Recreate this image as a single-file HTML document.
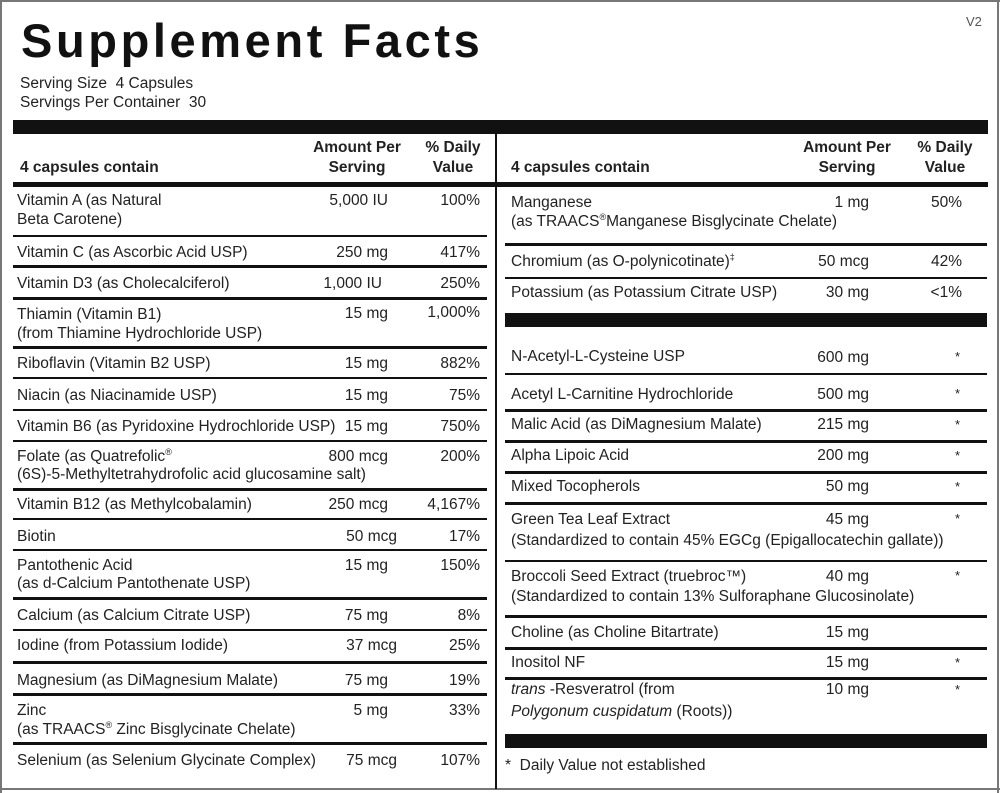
<!DOCTYPE html>
<html><head><meta charset="utf-8"><style>
body{margin:0;width:1000px;height:793px;background:#fff;position:relative;overflow:hidden;font-family:"Liberation Sans",Arial,sans-serif;color:#222}
.t{position:absolute;white-space:nowrap;font-size:15.5px;line-height:18px}
.r{text-align:right}
.b{font-weight:bold}
.c{text-align:center;width:120px}
.l{position:absolute;background:#111}
.s{font-size:9px;position:relative;top:-6px;line-height:0}
.a{position:absolute;font-size:13px;line-height:13px}
</style></head><body>
<div class="l" style="left:0;top:0;width:2px;height:793px;background:#777"></div>
<div class="l" style="left:997px;top:0;width:2px;height:793px;background:#777"></div>
<div class="l" style="left:0;top:0;width:1000px;height:2px;background:#777"></div>
<div class="l" style="left:0;top:788px;width:1000px;height:2px;background:#777"></div>
<div class="t" style="left:966px;top:13px;font-size:13px;color:#555">V2</div>
<div class="t b" style="left:21px;top:13px;font-size:47px;line-height:55px;letter-spacing:3.6px;color:#111">Supplement Facts</div>
<div class="t" style="left:20px;top:75px">Serving Size&nbsp; 4 Capsules</div>
<div class="t" style="left:20px;top:94px">Servings Per Container&nbsp; 30</div>
<div class="l" style="left:13px;top:120px;width:975px;height:14px"></div>
<div class="l" style="left:495px;top:134px;width:2px;height:655px"></div>
<div class="l" style="left:13px;top:182px;width:975px;height:5px"></div>
<div class="t b" style="left:20px;top:159px">4 capsules contain</div>
<div class="t b c" style="left:297px;top:139px">Amount Per</div>
<div class="t b c" style="left:297px;top:159px">Serving</div>
<div class="t b c" style="left:393px;top:139px">% Daily</div>
<div class="t b c" style="left:393px;top:159px">Value</div>
<div class="t b" style="left:511px;top:159px">4 capsules contain</div>
<div class="t b c" style="left:787px;top:139px">Amount Per</div>
<div class="t b c" style="left:787px;top:159px">Serving</div>
<div class="t b c" style="left:885px;top:139px">% Daily</div>
<div class="t b c" style="left:885px;top:159px">Value</div>
<div class="l" style="left:13px;top:235px;width:474px;height:2px"></div>
<div class="l" style="left:13px;top:265px;width:474px;height:3px"></div>
<div class="l" style="left:13px;top:297px;width:474px;height:3px"></div>
<div class="l" style="left:13px;top:346px;width:474px;height:3px"></div>
<div class="l" style="left:13px;top:377px;width:474px;height:2px"></div>
<div class="l" style="left:13px;top:409px;width:474px;height:2px"></div>
<div class="l" style="left:13px;top:440px;width:474px;height:2px"></div>
<div class="l" style="left:13px;top:488px;width:474px;height:3px"></div>
<div class="l" style="left:13px;top:518px;width:474px;height:2px"></div>
<div class="l" style="left:13px;top:549px;width:474px;height:2px"></div>
<div class="l" style="left:13px;top:597px;width:474px;height:3px"></div>
<div class="l" style="left:13px;top:629px;width:474px;height:2px"></div>
<div class="l" style="left:13px;top:661px;width:474px;height:3px"></div>
<div class="l" style="left:13px;top:693px;width:474px;height:3px"></div>
<div class="l" style="left:13px;top:742px;width:474px;height:3px"></div>
<div class="t" style="left:17px;top:192px">Vitamin A (as Natural</div>
<div class="t" style="left:17px;top:211px">Beta Carotene)</div>
<div class="t r" style="right:612px;top:192px">5,000 IU</div>
<div class="t r" style="right:520px;top:192px">100%</div>
<div class="t" style="left:17px;top:244px">Vitamin C (as Ascorbic Acid USP)</div>
<div class="t r" style="right:612px;top:244px">250 mg</div>
<div class="t r" style="right:520px;top:244px">417%</div>
<div class="t" style="left:17px;top:275px">Vitamin D3 (as Cholecalciferol)</div>
<div class="t r" style="right:618px;top:275px">1,000 IU</div>
<div class="t r" style="right:520px;top:275px">250%</div>
<div class="t" style="left:17px;top:306px">Thiamin (Vitamin B1)</div>
<div class="t" style="left:17px;top:325px">(from Thiamine Hydrochloride USP)</div>
<div class="t r" style="right:612px;top:305px">15 mg</div>
<div class="t r" style="right:520px;top:304px">1,000%</div>
<div class="t" style="left:17px;top:355px">Riboflavin (Vitamin B2 USP)</div>
<div class="t r" style="right:612px;top:355px">15 mg</div>
<div class="t r" style="right:520px;top:355px">882%</div>
<div class="t" style="left:17px;top:387px">Niacin (as Niacinamide USP)</div>
<div class="t r" style="right:612px;top:387px">15 mg</div>
<div class="t r" style="right:520px;top:387px">75%</div>
<div class="t" style="left:17px;top:418px">Vitamin B6 (as Pyridoxine Hydrochloride USP)</div>
<div class="t r" style="right:612px;top:418px">15 mg</div>
<div class="t r" style="right:520px;top:418px">750%</div>
<div class="t" style="left:17px;top:448px">Folate (as Quatrefolic<span class="s">®</span></div>
<div class="t" style="left:17px;top:466px">(6S)-5-Methyltetrahydrofolic acid glucosamine salt)</div>
<div class="t r" style="right:612px;top:448px">800 mcg</div>
<div class="t r" style="right:520px;top:448px">200%</div>
<div class="t" style="left:17px;top:496px">Vitamin B12 (as Methylcobalamin)</div>
<div class="t r" style="right:612px;top:496px">250 mcg</div>
<div class="t r" style="right:520px;top:496px">4,167%</div>
<div class="t" style="left:17px;top:528px">Biotin</div>
<div class="t r" style="right:603px;top:528px">50 mcg</div>
<div class="t r" style="right:520px;top:528px">17%</div>
<div class="t" style="left:17px;top:557px">Pantothenic Acid</div>
<div class="t" style="left:17px;top:575px">(as d-Calcium Pantothenate USP)</div>
<div class="t r" style="right:612px;top:557px">15 mg</div>
<div class="t r" style="right:520px;top:557px">150%</div>
<div class="t" style="left:17px;top:607px">Calcium (as Calcium Citrate USP)</div>
<div class="t r" style="right:612px;top:607px">75 mg</div>
<div class="t r" style="right:520px;top:607px">8%</div>
<div class="t" style="left:17px;top:637px">Iodine (from Potassium Iodide)</div>
<div class="t r" style="right:603px;top:637px">37 mcg</div>
<div class="t r" style="right:520px;top:637px">25%</div>
<div class="t" style="left:17px;top:672px">Magnesium (as DiMagnesium Malate)</div>
<div class="t r" style="right:612px;top:672px">75 mg</div>
<div class="t r" style="right:520px;top:672px">19%</div>
<div class="t" style="left:17px;top:702px">Zinc</div>
<div class="t" style="left:17px;top:721px">(as TRAACS<span class="s">®</span> Zinc Bisglycinate Chelate)</div>
<div class="t r" style="right:612px;top:702px">5 mg</div>
<div class="t r" style="right:520px;top:702px">33%</div>
<div class="t" style="left:17px;top:752px">Selenium (as Selenium Glycinate Complex)</div>
<div class="t r" style="right:603px;top:752px">75 mcg</div>
<div class="t r" style="right:520px;top:752px">107%</div>
<div class="l" style="left:505px;top:243px;width:482px;height:3px"></div>
<div class="l" style="left:505px;top:277px;width:482px;height:2px"></div>
<div class="l" style="left:505px;top:313px;width:482px;height:14px"></div>
<div class="l" style="left:505px;top:373px;width:482px;height:2px"></div>
<div class="l" style="left:505px;top:409px;width:482px;height:3px"></div>
<div class="l" style="left:505px;top:440px;width:482px;height:3px"></div>
<div class="l" style="left:505px;top:471px;width:482px;height:3px"></div>
<div class="l" style="left:505px;top:502px;width:482px;height:3px"></div>
<div class="l" style="left:505px;top:560px;width:482px;height:2px"></div>
<div class="l" style="left:505px;top:615px;width:482px;height:3px"></div>
<div class="l" style="left:505px;top:647px;width:482px;height:3px"></div>
<div class="l" style="left:505px;top:677px;width:482px;height:3px"></div>
<div class="l" style="left:505px;top:734px;width:482px;height:14px"></div>
<div class="t" style="left:511px;top:194px">Manganese</div>
<div class="t" style="left:511px;top:213px">(as TRAACS<span class="s">®</span>Manganese Bisglycinate Chelate)</div>
<div class="t r" style="right:131px;top:194px">1 mg</div>
<div class="t r" style="right:38px;top:194px">50%</div>
<div class="t" style="left:511px;top:253px">Chromium (as O-polynicotinate)<span class="s">‡</span></div>
<div class="t r" style="right:131px;top:253px">50 mcg</div>
<div class="t r" style="right:38px;top:253px">42%</div>
<div class="t" style="left:511px;top:284px">Potassium (as Potassium Citrate USP)</div>
<div class="t r" style="right:131px;top:284px">30 mg</div>
<div class="t r" style="right:38px;top:284px">&lt;1%</div>
<div class="t" style="left:511px;top:348px">N-Acetyl-L-Cysteine USP</div>
<div class="t r" style="right:131px;top:349px">600 mg</div>
<div class="a" style="left:955px;top:350px">*</div>
<div class="t" style="left:511px;top:386px">Acetyl L-Carnitine Hydrochloride</div>
<div class="t r" style="right:131px;top:386px">500 mg</div>
<div class="a" style="left:955px;top:387px">*</div>
<div class="t" style="left:511px;top:416px">Malic Acid (as DiMagnesium Malate)</div>
<div class="t r" style="right:131px;top:416px">215 mg</div>
<div class="a" style="left:955px;top:418px">*</div>
<div class="t" style="left:511px;top:447px">Alpha Lipoic Acid</div>
<div class="t r" style="right:131px;top:447px">200 mg</div>
<div class="a" style="left:955px;top:449px">*</div>
<div class="t" style="left:511px;top:478px">Mixed Tocopherols</div>
<div class="t r" style="right:131px;top:478px">50 mg</div>
<div class="a" style="left:955px;top:480px">*</div>
<div class="t" style="left:511px;top:511px">Green Tea Leaf Extract</div>
<div class="t" style="left:511px;top:532px">(Standardized to contain 45% EGCg (Epigallocatechin gallate))</div>
<div class="t r" style="right:131px;top:511px">45 mg</div>
<div class="a" style="left:955px;top:512px">*</div>
<div class="t" style="left:511px;top:568px">Broccoli Seed Extract (truebroc™)</div>
<div class="t" style="left:511px;top:588px">(Standardized to contain 13% Sulforaphane Glucosinolate)</div>
<div class="t r" style="right:131px;top:568px">40 mg</div>
<div class="a" style="left:955px;top:569px">*</div>
<div class="t" style="left:511px;top:624px">Choline (as Choline Bitartrate)</div>
<div class="t r" style="right:131px;top:624px">15 mg</div>
<div class="t" style="left:511px;top:654px">Inositol NF</div>
<div class="t r" style="right:131px;top:654px">15 mg</div>
<div class="a" style="left:955px;top:656px">*</div>
<div class="t" style="left:511px;top:681px"><i>trans</i> -Resveratrol (from</div>
<div class="t" style="left:511px;top:703px"><i>Polygonum cuspidatum</i> (Roots))</div>
<div class="t r" style="right:131px;top:681px">10 mg</div>
<div class="a" style="left:955px;top:683px">*</div>
<div class="t" style="left:505px;top:757px">*&nbsp; Daily Value not established</div>
</body></html>
